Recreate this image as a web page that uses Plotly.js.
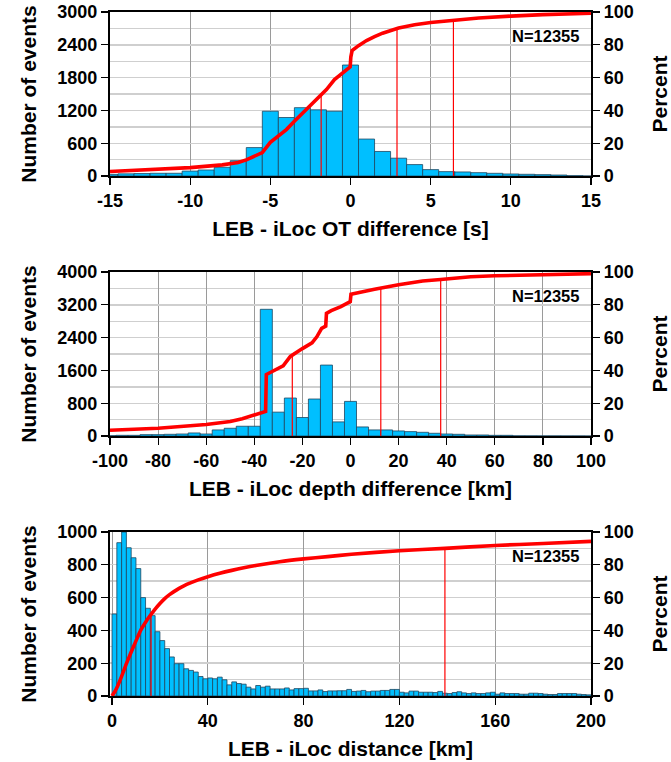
<!DOCTYPE html>
<html>
<head>
<meta charset="utf-8">
<script src="https://cdn.plot.ly/plotly-3.0.1.min.js"></script>
<style>html,body{margin:0;padding:0;background:#fff;}#chart{width:671px;height:762px;}</style>
</head>
<body>
<div id="chart"></div>
<script>
// ---------- Panel 1: origin time difference ----------
const otCenters = [-15,-14,-13,-12,-11,-10,-9,-8,-7,-6,-5,-4,-3,-2,-1,0,1,2,3,4,5,6,7,8,9,10,11,12,13,14,15];
const otCounts  = [30,40,45,50,50,90,110,160,280,520,1185,1070,1250,1210,1185,2030,676,449,326,209,117,80,74,61,49,37,31,25,18,6,0];
const otCurveX   = [-15,-12,-10,-8,-7,-6.5,-6,-5.5,-5,-4.5,-4,-3.5,-3,-2.5,-2,-1.5,-1,-0.5,-0.02,0.02,0.1,0.5,1,1.5,2,3,4,5,6.4,8,10,12,15];
const otCurvePct = [2.7,4,5.1,6.8,8.2,9.8,12.3,14.3,20.5,24.6,28.3,33.4,38.3,43,48,52.7,58.8,62.9,66.6,72.5,76.5,79.5,82.6,85,87.1,90.2,92.2,93.6,94.9,96.3,97.5,98.4,99.2];
const otMarkX   = [-1.83, 2.9, 6.42];
const otMarkPct = [50, 90, 95];
const otTicks = [-15,-10,-5,0,5,10,15];

// ---------- Panel 2: depth difference ----------
const dpCenters = [-100,-95,-90,-85,-80,-75,-70,-65,-60,-55,-50,-45,-40,-35,-30,-25,-20,-15,-10,-5,0,5,10,15,20,25,30,35,40,45,50,55,60,65,70,75,80,85,90,95,100];
const dpCounts  = [8,16,16,33,33,41,49,74,49,148,189,238,238,3090,582,926,451,902,1730,344,844,221,148,148,123,107,90,66,49,41,25,25,16,16,4,3,2,2,1,1,0];
const dpCurveX   = [-100,-80,-60,-50,-45,-40,-37,-35.3,-35,-32,-28,-25,-23,-20,-16,-14,-12,-10.3,-10,-8,-4,-1,-0.1,0.2,5,10,20,30,37.5,50,60,80,100];
const dpCurvePct = [3.5,4.7,7,8.8,10.5,12.7,14.3,15,37.5,40,42.8,48.5,50.6,53.3,56.8,60.5,65.6,67,74.8,76.4,78.9,81.4,82,86.5,87.7,89.5,92.2,94.5,95.4,97.1,97.7,98.4,99];
const dpMarkX   = [-24.2, 12.6, 37.5];
const dpMarkPct = [50, 90, 95];
const dpTicks = [-100,-80,-60,-40,-20,0,20,40,60,80,100];

// ---------- Panel 3: distance ----------
const dsCenters = [1,3,5,7,9,11,13,15,17,19,21,23,25,27,29,31,33,35,37,39,41,43,45,47,49,51,53,55,57,59,61,63,65,67,69,71,73,75,77,79,81,83,85,87,89,91,93,95,97,99,101,103,105,107,109,111,113,115,117,119,121,123,125,127,129,131,133,135,137,139,141,143,145,147,149,151,153,155,157,159,161,163,165,167,169,171,173,175,177,179,181,183,185,187,189,191,193,195,197,199];
const dsCounts  = [500,935,1000,904,843,777,600,535,490,392,338,289,238,197,197,166,156,146,119,105,110,105,115,99,68,86,76,72,54,43,64,54,60,43,43,43,49,37,45,45,47,31,31,37,27,31,31,32,32,40,28,30,34,26,30,30,34,34,40,40,23,19,30,30,23,23,23,21,28,17,15,21,26,19,15,19,15,15,19,23,11,19,15,15,15,11,11,17,17,15,11,9,9,15,15,15,15,11,9,7];
const dsCurveX   = [0,1,2,4,6,8,10,12,14,16,18,20,22,24,26,28,30,33,36,40,45,50,55,60,70,80,90,100,120,139,160,180,200];
const dsCurvePct = [0,2.3,5,12,19.7,26.8,33.6,40.2,45,49.2,53,56.4,59.4,61.8,63.8,65.6,67.2,69.1,70.8,72.7,74.8,76.6,78.2,79.6,81.9,83.6,85,86.4,88.6,90,91.8,93,94.3];
const dsMarkX   = [16.3, 139];
const dsMarkPct = [50, 90];
const dsTicks = [0,40,80,120,160,200];

const nLabel = 'N=12355';
const xTitles = ['LEB - iLoc OT difference [s]', 'LEB - iLoc depth difference [km]', 'LEB - iLoc distance [km]'];
const yTitle = 'Number of events';
const y2Title = 'Percent';

// ---------- styling ----------
const FONT = 'Liberation Sans, Arial, Helvetica, sans-serif';
const tickFont = {family: FONT, size: 18, color: '#000', weight: 'bold'};
const titleFont = {family: FONT, size: 21, color: '#000', weight: 'bold'};
const barColor = 'rgb(0,191,255)';
const barLine = 'rgb(30,70,95)';
const red = 'rgb(255,0,0)';

function markTrace(xs, ps, xa, ya) {
  const x = [], y = [];
  xs.forEach((v, i) => { x.push(v, v, null); y.push(0, ps[i], null); });
  return {type: 'scatter', mode: 'lines', x: x, y: y, xaxis: xa, yaxis: ya,
          line: {color: red, width: 1.2}, hoverinfo: 'skip', showlegend: false};
}

const panels = [
  {c: otCenters, n: otCounts, cx: otCurveX, cp: otCurvePct, mx: otMarkX, mp: otMarkPct, shape: 'linear'},
  {c: dpCenters, n: dpCounts, cx: dpCurveX, cp: dpCurvePct, mx: dpMarkX, mp: dpMarkPct, shape: 'linear'},
  {c: dsCenters, n: dsCounts, cx: dsCurveX, cp: dsCurvePct, mx: dsMarkX, mp: dsMarkPct, shape: 'spline'}
];

const traces = [];
panels.forEach((p, i) => {
  const xa = i === 0 ? 'x' : 'x' + (i + 1);
  const ya = 'y' + (2 * i + 1 === 1 ? '' : 2 * i + 1);
  const yb = 'y' + (2 * i + 2);
  traces.push({type: 'bar', x: p.c, y: p.n, xaxis: xa, yaxis: ya,
               marker: {color: barColor, line: {color: barLine, width: 0.8}},
               hoverinfo: 'x+y', showlegend: false});
  traces.push(markTrace(p.mx, p.mp, xa, yb));
  traces.push({type: 'scatter', mode: 'lines', x: p.cx, y: p.cp, xaxis: xa, yaxis: yb,
               line: {color: red, width: 3.6, shape: p.shape, smoothing: 0.6}, hoverinfo: 'x+y', showlegend: false});
});

const domains = [[0.76023, 1], [0.38012, 0.61988], [0, 0.23977]];
const xRanges = [[-15, 15], [-100, 100], [-0.85, 200]];
const xTickSets = [otTicks, dpTicks, dsTicks];
const yRanges = [[0, 3000], [0, 4000], [0, 1000]];
const yDticks = [600, 800, 200];

const layout = {
  width: 671, height: 762,
  margin: {l: 110, r: 80, t: 12, b: 66},
  paper_bgcolor: '#fff', plot_bgcolor: '#fff',
  bargap: 0, showlegend: false,
  annotations: [], font: {family: FONT}
};

for (let i = 0; i < 3; i++) {
  const xk = i === 0 ? 'xaxis' : 'xaxis' + (i + 1);
  const yk = i === 0 ? 'yaxis' : 'yaxis' + (2 * i + 1);
  const y2k = 'yaxis' + (2 * i + 2);
  const xname = i === 0 ? 'x' : 'x' + (i + 1);
  const yname = i === 0 ? 'y' : 'y' + (2 * i + 1);
  layout[xk] = {
    domain: [0, 1], anchor: yname, range: xRanges[i],
    tickvals: xTickSets[i], ticktext: xTickSets[i].map(String),
    ticks: 'outside', ticklen: 7, tickwidth: 1.2, tickcolor: '#000',
    showgrid: true, gridcolor: '#9a9a9a', gridwidth: 1,
    showline: true, linecolor: '#000', linewidth: 2.2, mirror: true,
    zeroline: false, tickfont: tickFont,
    title: {text: xTitles[i], font: titleFont, standoff: 12}
  };
  layout[yk] = {
    domain: domains[i], anchor: xname, range: yRanges[i], dtick: yDticks[i], tick0: 0,
    ticks: 'outside', ticklen: 7, tickwidth: 1.2, tickcolor: '#000',
    showgrid: true, gridcolor: '#cfcfcf', gridwidth: 1.4,
    minor: {dtick: yDticks[i] / 2, showgrid: true, gridcolor: '#cfcfcf', gridwidth: 1.4, ticks: ''},
    showline: true, linecolor: '#000', linewidth: 2.2,
    zeroline: false, tickfont: tickFont,
    title: {text: yTitle, font: titleFont, standoff: 15}
  };
  layout[y2k] = {
    domain: domains[i], anchor: xname, overlaying: yname, side: 'right',
    range: [0, 100], dtick: 20, tick0: 0,
    ticks: 'outside', ticklen: 7, tickwidth: 1.2, tickcolor: '#000',
    showgrid: false, showline: true, linecolor: '#000', linewidth: 2.2,
    zeroline: false, tickfont: tickFont,
    title: {text: y2Title, font: titleFont, standoff: 21}
  };
  layout.annotations.push({
    text: nLabel, xref: xname + ' domain', yref: yname + ' domain',
    x: 0.979, y: 0.854, xanchor: 'right', yanchor: 'middle', showarrow: false,
    font: {family: FONT, size: 16.5, color: '#000', weight: 'bold'}
  });
}

Plotly.newPlot('chart', traces, layout, {displayModeBar: false, staticPlot: true});
</script>
</body>
</html>
